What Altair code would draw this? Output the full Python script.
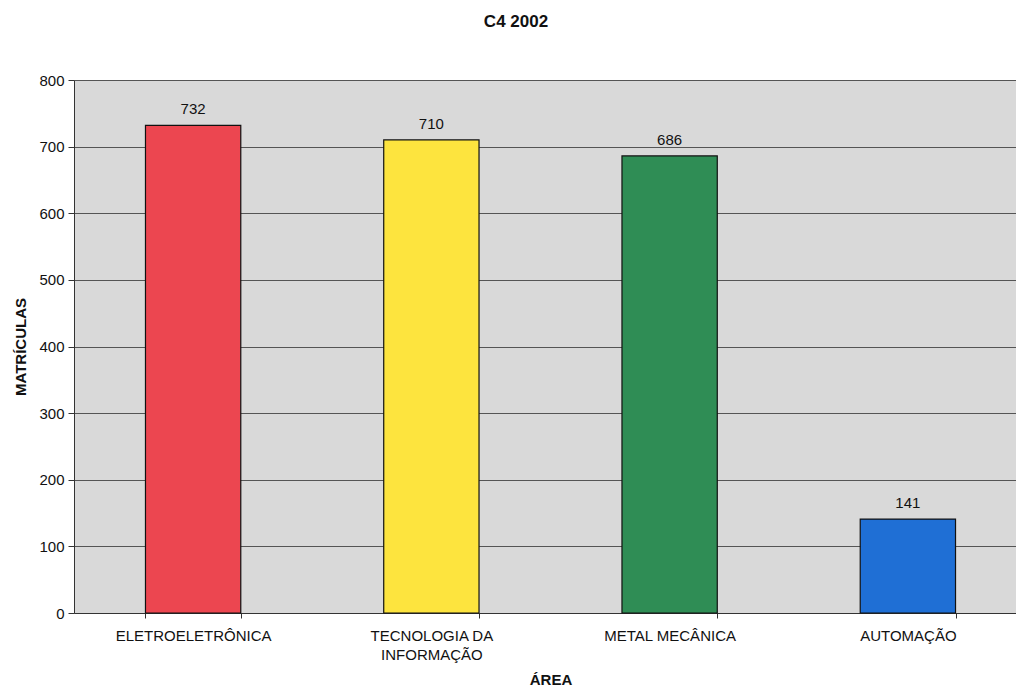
import altair as alt
import pandas as pd

# Enrolments per area, C4 2002
areas = ["ELETROELETRÔNICA", "TECNOLOGIA DA\nINFORMAÇÃO", "METAL MECÂNICA", "AUTOMAÇÃO"]
matriculas = [732, 710, 686, 141]
colors = ["#ec4650", "#fde43e", "#2f8d55", "#1f6fd5"]

df = pd.DataFrame({"area": areas, "matriculas": matriculas, "cor": colors})

FONT = "Liberation Sans"

x = alt.X(
    "area:N",
    sort=areas,
    title="ÁREA",
    # the category axis runs a little past the right edge of the page
    scale=alt.Scale(paddingInner=0.6, paddingOuter=0.3, range=[0, 953]),
    axis=alt.Axis(
        labelAngle=0,
        labelExpr="split(datum.label, '\\n')",
        labelFont=FONT,
        labelFontSize=15,
        labelLineHeight=19,
        labelColor="#111111",
        labelPadding=10,
        tickBand="extent",
        tickSize=5,
        tickColor="#333333",
        domainColor="#333333",
        titleFont=FONT,
        titleFontSize=15,
        titleFontWeight="bold",
        titleColor="#111111",
        titlePadding=10,
    ),
)

y = alt.Y(
    "matriculas:Q",
    title="MATRÍCULAS",
    scale=alt.Scale(domain=[0, 800], nice=False),
    axis=alt.Axis(
        values=[0, 100, 200, 300, 400, 500, 600, 700, 800],
        labelFont=FONT,
        labelFontSize=15,
        labelColor="#111111",
        labelPadding=4,
        tickSize=6,
        tickColor="#333333",
        domainColor="#333333",
        gridColor="#555555",
        gridWidth=1,
        titleFont=FONT,
        titleFontSize=15,
        titleFontWeight="bold",
        titleColor="#111111",
        titlePadding=10,
    ),
)

bars = alt.Chart(df).mark_bar(stroke="#111111", strokeWidth=1.2).encode(
    x=x,
    y=y,
    color=alt.Color("cor:N", scale=None),
)

labels = alt.Chart(df).mark_text(
    baseline="bottom", dy=-8, font=FONT, fontSize=15, color="#111111"
).encode(
    x=alt.X("area:N", sort=areas),
    y=alt.Y("matriculas:Q"),
    text="matriculas:Q",
)

chart = (
    alt.layer(bars, labels)
    .properties(
        width=942,
        height=533,
        background="white",
        title=alt.TitleParams(
            "C4 2002",
            font=FONT,
            fontSize=17,
            fontWeight="bold",
            color="#111111",
            anchor="middle",
            dx=-29,
            offset=42,
        ),
        autosize=alt.AutoSizeParams(type="none"),
        padding={"left": 74, "top": 80, "right": 0, "bottom": 74},
    )
    .configure_view(fill="#d9d9d9", stroke=None)
)

chart.save("out.html", embed_options={"renderer": "svg", "actions": False})
